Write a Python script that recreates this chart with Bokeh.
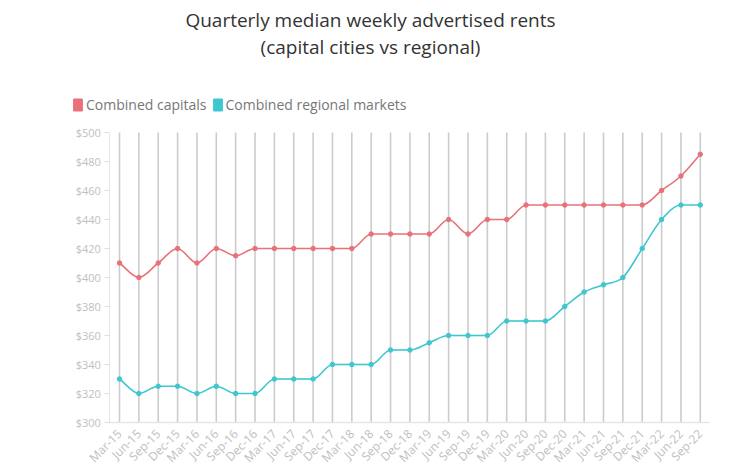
from bokeh.plotting import figure
from bokeh.models import (FixedTicker, NumeralTickFormatter, Range1d, Label, LinearAxis,
                          Legend, LegendItem, ColumnDataSource)
from bokeh.embed import file_html
from bokeh.resources import INLINE

quarters = ["Mar-15", "Jun-15", "Sep-15", "Dec-15", "Mar-16", "Jun-16", "Sep-16", "Dec-16",
            "Mar-17", "Jun-17", "Sep-17", "Dec-17", "Mar-18", "Jun-18", "Sep-18", "Dec-18",
            "Mar-19", "Jun-19", "Sep-19", "Dec-19", "Mar-20", "Jun-20", "Sep-20", "Dec-20",
            "Mar-21", "Jun-21", "Sep-21", "Dec-21", "Mar-22", "Jun-22", "Sep-22"]
capitals = [410, 400, 410, 420, 410, 420, 415, 420, 420, 420, 420, 420, 420, 430, 430, 430,
            430, 440, 430, 440, 440, 450, 450, 450, 450, 450, 450, 450, 460, 470, 485]
regional = [330, 320, 325, 325, 320, 325, 320, 320, 330, 330, 330, 340, 340, 340, 350, 350,
            355, 360, 360, 360, 370, 370, 370, 380, 390, 395, 400, 420, 440, 450, 450]
y_ticks = [300, 320, 340, 360, 380, 400, 420, 440, 460, 480, 500]
series_names = ["Combined capitals", "Combined regional markets"]
title_lines = ["Quarterly median weekly advertised rents", "(capital cities vs regional)"]

RED = "#e8717a"
CYAN = "#3ec7cf"
FONT = "Open Sans"

# layout parameters (pixels)
FRAME_W, FRAME_H = 728, 465
BOTTOM_PAD = 43       # px below the $300 baseline, for the quarter labels
X_PX = 19.36          # px per quarter
Y_PX = 1.45           # px per dollar
FIRST_X = 119         # px from frame left to first quarter


def monotone_segments(xs, ys):
    n = len(ys)
    d = [(ys[i + 1] - ys[i]) / (xs[i + 1] - xs[i]) for i in range(n - 1)]
    m = [0.0] * n
    m[0] = d[0]
    m[-1] = d[-1]
    for i in range(1, n - 1):
        if d[i - 1] * d[i] <= 0:
            m[i] = 0.0
        else:
            m[i] = (d[i - 1] + d[i]) / 2
    for i in range(n - 1):
        if d[i] == 0:
            m[i] = 0.0
            m[i + 1] = 0.0
        else:
            a = m[i] / d[i]
            b = m[i + 1] / d[i]
            s = a * a + b * b
            if s > 9:
                t = 3 / s ** 0.5
                m[i] = t * a * d[i]
                m[i + 1] = t * b * d[i]
    x0, y0, x1, y1, cx0, cy0, cx1, cy1 = [], [], [], [], [], [], [], []
    for i in range(n - 1):
        h = xs[i + 1] - xs[i]
        x0.append(xs[i]); y0.append(ys[i])
        x1.append(xs[i + 1]); y1.append(ys[i + 1])
        cx0.append(xs[i] + h / 3); cy0.append(ys[i] + m[i] * h / 3)
        cx1.append(xs[i + 1] - h / 3); cy1.append(ys[i + 1] - m[i + 1] * h / 3)
    return dict(x0=x0, y0=y0, x1=x1, y1=y1, cx0=cx0, cy0=cy0, cx1=cx1, cy1=cy1)


xs = list(range(len(quarters)))
x_start = -FIRST_X / X_PX
y_lo, y_hi = y_ticks[0], y_ticks[-1]
y_start = y_lo - BOTTOM_PAD / Y_PX

p = figure(frame_width=FRAME_W, frame_height=FRAME_H, output_backend="svg",
           toolbar_location=None, x_axis_location=None, y_axis_location=None,
           x_range=Range1d(x_start, x_start + FRAME_W / X_PX),
           y_range=Range1d(y_start, y_start + FRAME_H / Y_PX),
           min_border_left=0, min_border_right=0, min_border_top=0, min_border_bottom=0)
p.title.visible = False
p.outline_line_color = None
p.background_fill_color = "white"
p.grid.visible = False

# vertical grid lines, one per quarter, spanning the value axis
p.segment(x0=xs, y0=[y_lo] * len(xs), x1=xs, y1=[y_hi] * len(xs),
          line_color="#cccccc", line_width=1.6)

# series
for vals, col in ((capitals, RED), (regional, CYAN)):
    seg = monotone_segments(xs, vals)
    p.bezier(x0="x0", y0="y0", x1="x1", y1="y1", cx0="cx0", cy0="cy0", cx1="cx1", cy1="cy1",
             source=ColumnDataSource(seg), line_color=col, line_width=1.6)
    p.scatter(xs, vals, size=4.5, color=col)

# x axis on the $300 baseline
xax = LinearAxis(fixed_location=y_lo, bounds=(-0.5, len(quarters) - 0.5),
                 ticker=FixedTicker(ticks=xs),
                 major_label_overrides={i: q for i, q in enumerate(quarters)},
                 major_label_orientation=0.7854,
                 axis_line_color="#e6e6e6", axis_line_width=1.5,
                 major_tick_line_color=None, minor_tick_line_color=None,
                 major_label_text_color="#c0c0c0", major_label_text_font=FONT,
                 major_label_text_font_size="12px", major_label_standoff=3)
p.add_layout(xax, "below")

# y axis drawn at the left edge of the data area
yax = LinearAxis(fixed_location=-0.5, bounds=(y_lo, y_hi), ticker=FixedTicker(ticks=y_ticks),
                 formatter=NumeralTickFormatter(format="$0"),
                 axis_line_color="#e6e6e6", major_tick_line_color="#e0e0e0",
                 major_tick_out=5, major_tick_in=0, minor_tick_line_color=None,
                 major_label_text_color="#c0c0c0", major_label_text_font=FONT,
                 major_label_text_font_size="11px", major_label_standoff=4)
p.add_layout(yax, "left")

# titles
for text, ypx in ((title_lines[0], 403), (title_lines[1], 376)):
    p.add_layout(Label(x=370, y=ypx + BOTTOM_PAD, x_units="screen", y_units="screen",
                       text=text, text_align="center", text_baseline="middle",
                       text_font=FONT, text_font_size="19px", text_color="#333333"))

# legend (swatches come from hidden bar renderers of each series)
r_cap = p.vbar(x=xs, top=capitals, width=0.5, fill_color=RED, line_color=RED, visible=False)
r_reg = p.vbar(x=xs, top=regional, width=0.5, fill_color=CYAN, line_color=CYAN, visible=False)
legend = Legend(items=[LegendItem(label=series_names[0], renderers=[r_cap]),
                       LegendItem(label=series_names[1], renderers=[r_reg])],
                orientation="horizontal", location=(72, 308 + BOTTOM_PAD),
                label_text_font=FONT, label_text_font_size="14px", label_text_color="#777777",
                glyph_width=11, glyph_height=15, label_standoff=3, spacing=5,
                padding=1, margin=0, border_line_color=None, background_fill_alpha=0,
                inactive_fill_alpha=0)
p.add_layout(legend, "center")

open("out.html", "w").write(file_html(p, INLINE))
